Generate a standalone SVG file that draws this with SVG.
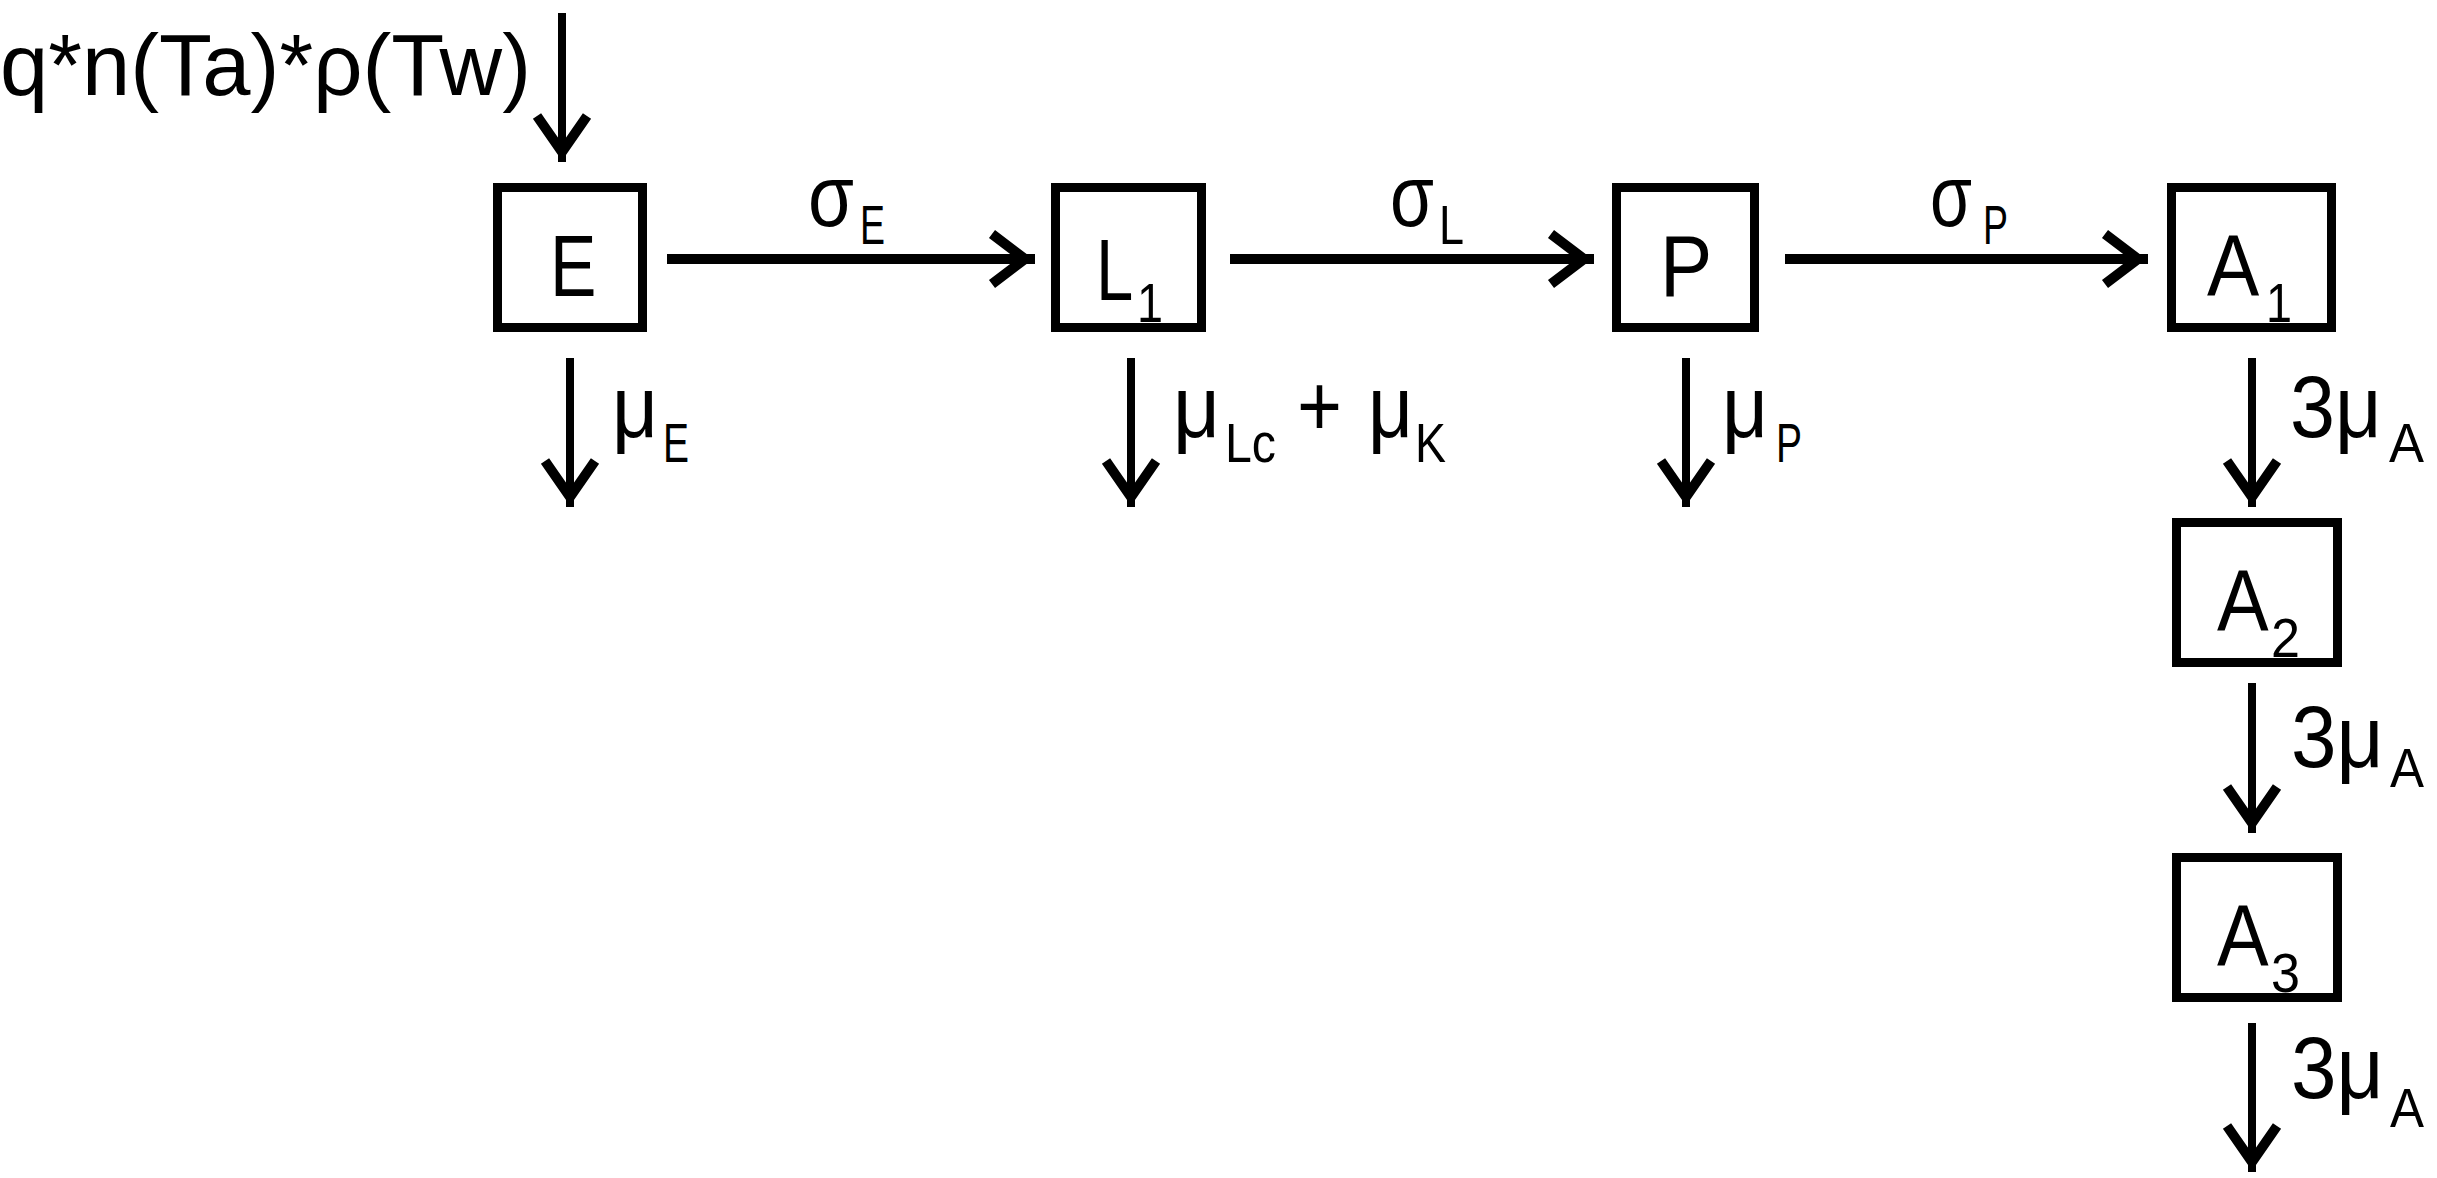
<svg xmlns="http://www.w3.org/2000/svg" width="2437" height="1178" viewBox="0 0 2437 1178">
<style>
  .bg{fill:#ffffff}
  .box{fill:#ffffff;stroke:#000;stroke-width:9}
  .t{font-family:"Liberation Sans","Open Sans",sans-serif;fill:#000;font-size:87px}
  .s{font-family:"Liberation Sans","Open Sans",sans-serif;fill:#000;font-size:56px}
  .h{stroke:#000;stroke-width:10;fill:none}
  .v{stroke:#000;stroke-width:8;fill:none}
</style>
<defs>
  <marker id="hh" viewBox="0 0 56 64" refX="50" refY="32" markerWidth="56" markerHeight="64" markerUnits="userSpaceOnUse" orient="auto" overflow="visible">
    <path d="M7,7 L40,32 L7,57" fill="none" stroke="#000" stroke-width="10"/>
  </marker>
  <marker id="vh" viewBox="0 0 56 64" refX="50" refY="32" markerWidth="56" markerHeight="64" markerUnits="userSpaceOnUse" orient="auto" overflow="visible">
    <path d="M4,7 L40,32 L4,57" fill="none" stroke="#000" stroke-width="10"/>
  </marker>
</defs>
<rect class="bg" x="0" y="0" width="2437" height="1178"/>

<g id="connectors">
  <line class="v" x1="562" y1="13" x2="562" y2="162" marker-end="url(#vh)"/>
  <line class="h" x1="667" y1="259" x2="1035" y2="259" marker-end="url(#hh)"/>
  <line class="h" x1="1230" y1="259" x2="1594" y2="259" marker-end="url(#hh)"/>
  <line class="h" x1="1785" y1="259" x2="2148" y2="259" marker-end="url(#hh)"/>
  <line class="v" x1="570" y1="358" x2="570" y2="507" marker-end="url(#vh)"/>
  <line class="v" x1="1131" y1="358" x2="1131" y2="507" marker-end="url(#vh)"/>
  <line class="v" x1="1686" y1="358" x2="1686" y2="507" marker-end="url(#vh)"/>
  <line class="v" x1="2252" y1="358" x2="2252" y2="507" marker-end="url(#vh)"/>
  <line class="v" x1="2252" y1="683" x2="2252" y2="833" marker-end="url(#vh)"/>
  <line class="v" x1="2252" y1="1023" x2="2252" y2="1172" marker-end="url(#vh)"/>
</g>

<g id="input">
  <text class="t" x="0" y="95" textLength="531" lengthAdjust="spacingAndGlyphs">q*n(Ta)*ρ(Tw)</text>
</g>

<g id="node-E">
  <rect class="box" x="497.5" y="187.5" width="145" height="140"/>
  <text class="t" transform="translate(550,296) scale(0.8,1)">E</text>
</g>
<g id="node-L1">
  <rect class="box" x="1055.5" y="187.5" width="146" height="140"/>
  <text class="t" transform="translate(1096,300) scale(0.77,1)">L</text>
  <text class="s" x="1137" y="322" textLength="26" lengthAdjust="spacingAndGlyphs">1</text>
</g>
<g id="node-P">
  <rect class="box" x="1616.5" y="187.5" width="138" height="140"/>
  <text class="t" transform="translate(1660,296) scale(0.9,1)">P</text>
</g>
<g id="node-A1">
  <rect class="box" x="2171.5" y="187.5" width="160" height="140"/>
  <text class="t" transform="translate(2207,296) scale(0.9,1)">A</text>
  <text class="s" x="2266" y="322" textLength="26" lengthAdjust="spacingAndGlyphs">1</text>
</g>
<g id="node-A2">
  <rect class="box" x="2176.5" y="522.5" width="161" height="140"/>
  <text class="t" transform="translate(2217,631) scale(0.89,1)">A</text>
  <text class="s" x="2271" y="657" textLength="29" lengthAdjust="spacingAndGlyphs">2</text>
</g>
<g id="node-A3">
  <rect class="box" x="2176.5" y="857.5" width="161" height="140"/>
  <text class="t" transform="translate(2217,966) scale(0.89,1)">A</text>
  <text class="s" x="2271" y="992" textLength="29" lengthAdjust="spacingAndGlyphs">3</text>
</g>

<g id="labels">
  <text class="t" x="808" y="226" textLength="46" lengthAdjust="spacingAndGlyphs">σ</text>
  <text class="s" x="860" y="244" textLength="25" lengthAdjust="spacingAndGlyphs">E</text>
  <text class="t" x="1390" y="226" textLength="44" lengthAdjust="spacingAndGlyphs">σ</text>
  <text class="s" x="1439" y="244" textLength="25" lengthAdjust="spacingAndGlyphs">L</text>
  <text class="t" x="1930" y="226" textLength="42" lengthAdjust="spacingAndGlyphs">σ</text>
  <text class="s" x="1983" y="244" textLength="25" lengthAdjust="spacingAndGlyphs">P</text>

  <text class="t" x="612" y="437" textLength="46" lengthAdjust="spacingAndGlyphs">μ</text>
  <text class="s" x="663" y="462" textLength="26" lengthAdjust="spacingAndGlyphs">E</text>

  <text class="t" x="1173" y="437" textLength="47" lengthAdjust="spacingAndGlyphs">μ</text>
  <text class="s" x="1225" y="462" textLength="51" lengthAdjust="spacingAndGlyphs">Lc</text>
  <text class="t" x="1297" y="436" textLength="45" lengthAdjust="spacingAndGlyphs">+</text>
  <text class="t" x="1368" y="437" textLength="45" lengthAdjust="spacingAndGlyphs">μ</text>
  <text class="s" x="1415" y="462" textLength="31" lengthAdjust="spacingAndGlyphs">K</text>

  <text class="t" x="1722" y="437" textLength="46" lengthAdjust="spacingAndGlyphs">μ</text>
  <text class="s" x="1776" y="462" textLength="26" lengthAdjust="spacingAndGlyphs">P</text>

  <text class="t" transform="translate(2290,437) scale(0.93,1)">3μ</text>
  <text class="s" x="2389" y="462" textLength="35" lengthAdjust="spacingAndGlyphs">A</text>
  <text class="t" transform="translate(2291,767) scale(0.94,1)">3μ</text>
  <text class="s" x="2390" y="787" textLength="34" lengthAdjust="spacingAndGlyphs">A</text>
  <text class="t" transform="translate(2291,1098) scale(0.94,1)">3μ</text>
  <text class="s" x="2390" y="1127" textLength="34" lengthAdjust="spacingAndGlyphs">A</text>
</g>
</svg>
